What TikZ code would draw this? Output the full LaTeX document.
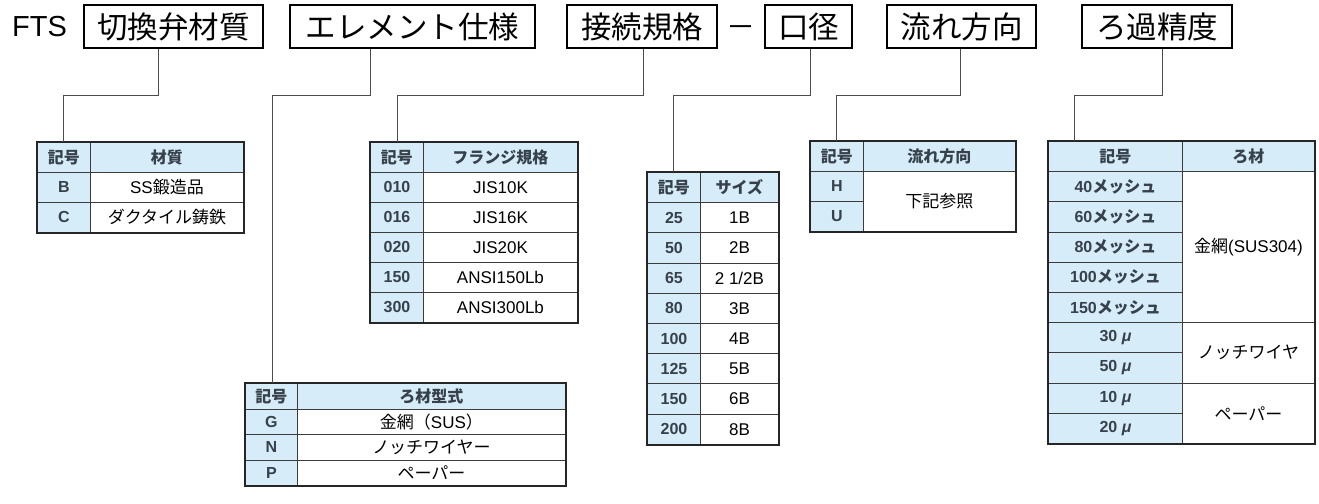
\documentclass[tikz,border=0pt]{standalone}
\usepackage{fontspec}
\setmainfont{Liberation Sans}
\newfontfamily\jp{Noto Sans CJK JP}

\definecolor{cellblue}{RGB}{214,236,248}
\definecolor{keygray}{RGB}{55,65,75}
\definecolor{linegray}{RGB}{60,60,60}

\tikzset{
    title/.style={draw, line width=2pt, minimum height=43pt, inner sep=0pt, font=\fontsize{30.5}{33}\selectfont\jp},
    cell/.style={draw=linegray, line width=0.9pt, anchor=north west, inner sep=0pt, minimum height=30pt, font=\fontsize{17}{20}\selectfont},
    key/.style={cell, fill=cellblue, text=keygray, font=\fontsize{16}{19}\selectfont\bfseries},
    frame/.style={draw=black!85, line width=1.8pt},
    conn/.style={draw=black!70, line width=0.9pt},
}

\begin{document}
\begin{tikzpicture}[x=1pt, y=-1pt]

    \useasboundingbox (0,0) rectangle (1319,503);

    \node[anchor=west, inner sep=0pt, font=\fontsize{29}{32}\selectfont] (fts) at (12,26.5) {FTS};
    \node[title, minimum width=179pt] (valve) at (173.5,26.5) {切換弁材質};
    \node[title, minimum width=245pt] (element) at (412.5,26.5) {エレメント仕様};
    \node[title, minimum width=150pt] (flange) at (642,26.5) {接続規格};
    \node[inner sep=0pt, font=\fontsize{29}{32}\selectfont\jp] (dash) at (741,32) {－};
    \node[title, minimum width=87pt] (bore) at (808.5,26.5) {口径};
    \node[title, minimum width=149pt] (flow) at (961.5,26.5) {流れ方向};
    \node[title, minimum width=150pt] (grade) at (1157,26.5) {ろ過精度};

    % valve material
    \node[key, minimum width=53pt] (valve k0) at (37,142) {\jp 記号};
    \node[key, minimum width=153pt] (valve v0) at (90,142) {\jp 材質};
    \node[key, minimum width=53pt] (valve k1) at (37,172) {B};
    \node[cell, minimum width=153pt] (valve v1) at (90,172) {SS{\jp 鍛造品}};
    \node[key, minimum width=53pt] (valve k2) at (37,202) {C};
    \node[cell, minimum width=153pt] (valve v2) at (90,202) {\jp ダクタイル鋳鉄};
    \draw[frame] (valve k0.north west) rectangle (valve v2.south east);

    % flange standard
    \node[key, minimum width=53pt] (flange k0) at (370,142) {\jp 記号};
    \node[key, minimum width=154pt] (flange v0) at (423,142) {\jp フランジ規格};
    \node[key, minimum width=53pt] (flange k1) at (370,172) {010};
    \node[cell, minimum width=154pt] (flange v1) at (423,172) {JIS10K};
    \node[key, minimum width=53pt] (flange k2) at (370,202) {016};
    \node[cell, minimum width=154pt] (flange v2) at (423,202) {JIS16K};
    \node[key, minimum width=53pt] (flange k3) at (370,232) {020};
    \node[cell, minimum width=154pt] (flange v3) at (423,232) {JIS20K};
    \node[key, minimum width=53pt] (flange k4) at (370,262) {150};
    \node[cell, minimum width=154pt] (flange v4) at (423,262) {ANSI150Lb};
    \node[key, minimum width=53pt] (flange k5) at (370,292) {300};
    \node[cell, minimum width=154pt] (flange v5) at (423,292) {ANSI300Lb};
    \draw[frame] (flange k0.north west) rectangle (flange v5.south east);

    % bore size
    \node[key, minimum width=53pt, minimum height=30.2pt] (bore k0) at (647,172) {\jp 記号};
    \node[key, minimum width=78pt, minimum height=30.2pt] (bore v0) at (700,172) {\jp サイズ};
    \node[key, minimum width=53pt, minimum height=30.2pt] (bore k1) at (647,202.2) {25};
    \node[cell, minimum width=78pt, minimum height=30.2pt] (bore v1) at (700,202.2) {1B};
    \node[key, minimum width=53pt, minimum height=30.2pt] (bore k2) at (647,232.4) {50};
    \node[cell, minimum width=78pt, minimum height=30.2pt] (bore v2) at (700,232.4) {2B};
    \node[key, minimum width=53pt, minimum height=30.2pt] (bore k3) at (647,262.6) {65};
    \node[cell, minimum width=78pt, minimum height=30.2pt] (bore v3) at (700,262.6) {2 1/2B};
    \node[key, minimum width=53pt, minimum height=30.2pt] (bore k4) at (647,292.8) {80};
    \node[cell, minimum width=78pt, minimum height=30.2pt] (bore v4) at (700,292.8) {3B};
    \node[key, minimum width=53pt, minimum height=30.2pt] (bore k5) at (647,323) {100};
    \node[cell, minimum width=78pt, minimum height=30.2pt] (bore v5) at (700,323) {4B};
    \node[key, minimum width=53pt, minimum height=30.2pt] (bore k6) at (647,353.2) {125};
    \node[cell, minimum width=78pt, minimum height=30.2pt] (bore v6) at (700,353.2) {5B};
    \node[key, minimum width=53pt, minimum height=30.2pt] (bore k7) at (647,383.4) {150};
    \node[cell, minimum width=78pt, minimum height=30.2pt] (bore v7) at (700,383.4) {6B};
    \node[key, minimum width=53pt, minimum height=30.2pt] (bore k8) at (647,413.6) {200};
    \node[cell, minimum width=78pt, minimum height=30.2pt] (bore v8) at (700,413.6) {8B};
    \draw[frame] (bore k0.north west) rectangle (bore v8.south east);

    % flow direction
    \node[key, minimum width=53pt] (flow k0) at (810,141) {\jp 記号};
    \node[key, minimum width=152pt] (flow v0) at (863,141) {\jp 流れ方向};
    \node[key, minimum width=53pt] (flow k1) at (810,171) {H};
    \node[key, minimum width=53pt] (flow k2) at (810,201) {U};
    \node[cell, minimum width=152pt, minimum height=60pt] (flow v1) at (863,171) {\jp 下記参照};
    \draw[frame] (flow k0.north west) rectangle (flow v1.south east);

    % filter type
    \node[key, minimum width=52pt, minimum height=25.5pt] (element k0) at (245,383) {\jp 記号};
    \node[key, minimum width=268pt, minimum height=25.5pt] (element v0) at (297,383) {\jp ろ材型式};
    \node[key, minimum width=52pt, minimum height=25.5pt] (element k1) at (245,408.5) {G};
    \node[cell, minimum width=268pt, minimum height=25.5pt] (element v1) at (297,408.5) {{\jp 金網（}SUS{\jp ）}};
    \node[key, minimum width=52pt, minimum height=25.5pt] (element k2) at (245,434) {N};
    \node[cell, minimum width=268pt, minimum height=25.5pt] (element v2) at (297,434) {\jp ノッチワイヤー};
    \node[key, minimum width=52pt, minimum height=25.5pt] (element k3) at (245,459.5) {P};
    \node[cell, minimum width=268pt, minimum height=25.5pt] (element v3) at (297,459.5) {\jp ペーパー};
    \draw[frame] (element k0.north west) rectangle (element v3.south east);

    % filtration grade
    \node[key, minimum width=134pt, minimum height=30.2pt] (grade k0) at (1048,141) {\jp 記号};
    \node[key, minimum width=132pt, minimum height=30.2pt] (grade v0) at (1182,141) {\jp ろ材};
    \node[key, minimum width=134pt, minimum height=30.2pt] (grade k1) at (1048,171.2) {40{\jp メッシュ}};
    \node[key, minimum width=134pt, minimum height=30.2pt] (grade k2) at (1048,201.4) {60{\jp メッシュ}};
    \node[key, minimum width=134pt, minimum height=30.2pt] (grade k3) at (1048,231.6) {80{\jp メッシュ}};
    \node[key, minimum width=134pt, minimum height=30.2pt] (grade k4) at (1048,261.8) {100{\jp メッシュ}};
    \node[key, minimum width=134pt, minimum height=30.2pt] (grade k5) at (1048,292) {150{\jp メッシュ}};
    \node[key, minimum width=134pt, minimum height=30.2pt] (grade k6) at (1048,322.2) {30 \textit{μ}};
    \node[key, minimum width=134pt, minimum height=30.2pt] (grade k7) at (1048,352.4) {50 \textit{μ}};
    \node[key, minimum width=134pt, minimum height=30.2pt] (grade k8) at (1048,382.6) {10 \textit{μ}};
    \node[key, minimum width=134pt, minimum height=30.2pt] (grade k9) at (1048,412.8) {20 \textit{μ}};
    \node[cell, minimum width=132pt, minimum height=151pt] (grade v1) at (1182,171.2) {{\jp 金網}(SUS304)};
    \node[cell, minimum width=132pt, minimum height=60.4pt] (grade v2) at (1182,322.2) {\jp ノッチワイヤ};
    \node[cell, minimum width=132pt, minimum height=60.4pt] (grade v3) at (1182,382.6) {\jp ペーパー};
    \draw[frame] (grade k0.north west) rectangle (grade v3.south east);

    % connectors
    \coordinate (valve bend) at (158,95);
    \coordinate (valve end) at (63,95);
    \draw[conn] (valve bend |- valve.south) -- (valve bend) -- (valve end) -- (valve end |- valve k0.north);

    \coordinate (element bend) at (370,95);
    \coordinate (element end) at (272,95);
    \draw[conn] (element bend |- element.south) -- (element bend) -- (element end) -- (element end |- element k0.north);

    \coordinate (flange bend) at (643,95);
    \coordinate (flange end) at (397,95);
    \draw[conn] (flange bend |- flange.south) -- (flange bend) -- (flange end) -- (flange end |- flange k0.north);

    \coordinate (bore bend) at (810,95);
    \coordinate (bore end) at (673,95);
    \draw[conn] (bore bend |- bore.south) -- (bore bend) -- (bore end) -- (bore end |- bore k0.north);

    \coordinate (flow bend) at (960,95);
    \coordinate (flow end) at (836,95);
    \draw[conn] (flow bend |- flow.south) -- (flow bend) -- (flow end) -- (flow end |- flow k0.north);

    \coordinate (grade bend) at (1162,95);
    \coordinate (grade end) at (1074,95);
    \draw[conn] (grade bend |- grade.south) -- (grade bend) -- (grade end) -- (grade end |- grade k0.north);

\end{tikzpicture}
\end{document}
